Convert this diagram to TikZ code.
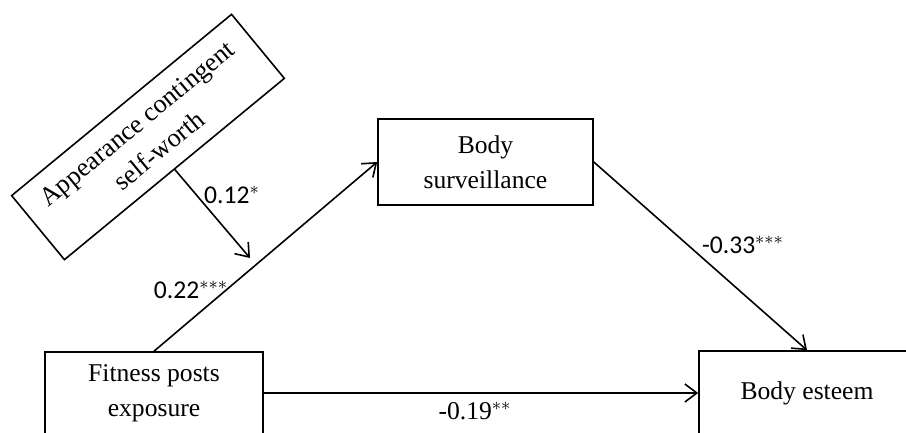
\documentclass[tikz,border=0pt]{standalone}
\usepackage{fontspec}
\setmainfont{Liberation Serif}
\newfontfamily\lblfont{Carlito}
\usetikzlibrary{arrows.meta}
\begin{document}
\begin{tikzpicture}[x=0.5pt,y=-0.5pt,
  box/.style={draw,line width=0.8pt,align=center,inner sep=0pt,font=\fontsize{12.8}{17.5}\selectfont},
  conn/.style={line width=0.8pt,-{Straight Barb[length=6pt,width=9pt,line width=0.8pt]}},
  lbl/.style={font=\lblfont\fontsize{12.8}{14}\selectfont,inner sep=1pt},
  lblser/.style={font=\fontsize{12.8}{14}\selectfont,inner sep=1pt}]
\useasboundingbox (0,0) rectangle (906,433);
\clip (0,0) rectangle (906,433);
\node[box,minimum width=109pt,minimum height=41pt] (fit) at (154,393) {Fitness posts\\exposure};
\node[box,minimum width=107.5pt,minimum height=43pt] (surv) at (485.5,162) {Body\\surveillance};
\node[box,minimum width=108pt,minimum height=42pt] (est) at (807,393) {Body esteem};
\node[box,minimum width=142.5pt,minimum height=41.5pt,rotate=39.5,font=\fontsize{13.2}{17.5}\selectfont] (mod) at (148,137) {Appearance contingent\\self-worth};
\coordinate (mid) at (250,258);
\draw[conn] (fit.north) -- (surv.west);
\draw[conn] (surv.east) -- (est.north);
\draw[conn] (fit.east) -- (est.west);
\draw[conn] (mod.south) -- (mid);
\node[lbl] (l1) at (232,195) {0.12$^{*}$};
\node[lbl] (l2) at (191,290) {0.22$^{***}$};
\node[lbl] (l3) at (743,245) {-0.33$^{***}$};
\node[lblser] (l4) at (475,411) {-0.19$^{**}$};
\end{tikzpicture}
\end{document}
